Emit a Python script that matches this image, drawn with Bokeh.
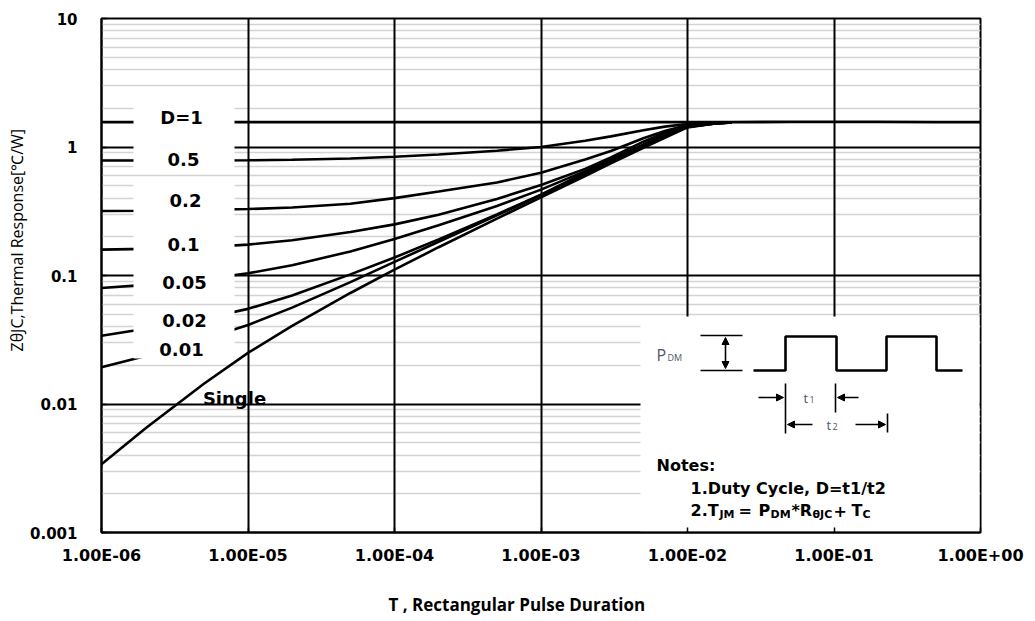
import numpy as np
from bokeh.plotting import figure
from bokeh.models import FixedTicker, Title, Arrow, NormalHead
from bokeh.core.properties import value
from bokeh.embed import file_html
from bokeh.resources import INLINE

# ---------------- data ----------------
pulse = [1e-6, 2e-6, 5e-6, 1e-5, 2e-5, 5e-5, 1e-4, 2e-4, 5e-4, 1e-3,
         2e-3, 3e-3, 5e-3, 7e-3, 1e-2, 1.5e-2, 2e-2]
pulse_d1 = [1e-6, 1e-5, 1e-4, 1e-3, 1e-2, 2e-2, 5e-2, 1e-1, 2e-1, 5e-1, 1.0]
z_d1 = [1.56, 1.56, 1.56, 1.56, 1.56, 1.56, 1.57, 1.57, 1.57, 1.56, 1.56]
z_d05 = [0.785, 0.785, 0.786, 0.788, 0.795, 0.813, 0.84, 0.875, 0.935, 1.0,
         1.12, 1.21, 1.35, 1.44, 1.51, 1.55, 1.56]
z_d02 = [0.318, 0.319, 0.323, 0.329, 0.338, 0.362, 0.40, 0.45, 0.53, 0.63,
         0.80, 0.93, 1.17, 1.33, 1.48, 1.54, 1.56]
z_d01 = [0.159, 0.161, 0.166, 0.174, 0.188, 0.218, 0.25, 0.297, 0.394, 0.506,
         0.676, 0.83, 1.10, 1.29, 1.47, 1.54, 1.56]
z_d005 = [0.080, 0.0846, 0.0935, 0.104, 0.120, 0.154, 0.192, 0.246, 0.348, 0.466,
          0.649, 0.80, 1.045, 1.25, 1.45, 1.53, 1.55]
z_d002 = [0.034, 0.0385, 0.0462, 0.055, 0.070, 0.102, 0.138, 0.191, 0.299, 0.426,
          0.63, 0.785, 1.03, 1.23, 1.44, 1.52, 1.55]
z_d001 = [0.0193, 0.0236, 0.0319, 0.0412, 0.0562, 0.0889, 0.1276, 0.183, 0.294, 0.423,
          0.615, 0.769, 1.02, 1.22, 1.43, 1.52, 1.55]
z_single = [0.0034, 0.00647, 0.01436, 0.0250, 0.0406, 0.0731, 0.111, 0.166, 0.277, 0.406,
            0.595, 0.745, 0.986, 1.18, 1.42, 1.52, 1.55]

curve_labels = ["D=1", "0.5", "0.2", "0.1", "0.05", "0.02", "0.01", "Single"]

x_ticks = [1e-6, 1e-5, 1e-4, 1e-3, 1e-2, 1e-1, 1.0]
x_tick_labels = ["1.00E-06", "1.00E-05", "1.00E-04", "1.00E-03", "1.00E-02", "1.00E-01", "1.00E+00"]
y_ticks = [0.001, 0.01, 0.1, 1.0, 10.0]
y_tick_labels = ["0.001", "0.01", "0.1", "1", "10"]
y_minor = [m * d for d in [0.001, 0.01, 0.1, 1.0] for m in range(2, 10)]

x_title = "T , Rectangular Pulse Duration"
y_title = "ZθJC,Thermal Response[℃/W]"

# ---------------- layout helpers (pixel -> data on the log axes) ----------------
FL, FR, FT, FB = 101, 980, 18, 532
def dx(px):
    return 10 ** (-6 + 6 * (px - FL) / (FR - FL))
def dy(py):
    return 10 ** (1 - 4 * (py - FT) / (FB - FT))

p = figure(frame_width=FR - FL, frame_height=FB - FT,
           x_axis_type="log", y_axis_type="log",
           x_range=(1e-6, 1.0), y_range=(1e-3, 10.0),
           min_border_left=FL, min_border_right=1035 - FR,
           min_border_top=FT, min_border_bottom=621 - FB,
           output_backend="svg", toolbar_location=None,
           background_fill_color="white", border_fill_color="white")
p.outline_line_color = "black"
p.outline_line_width = 2

p.xaxis.ticker = FixedTicker(ticks=x_ticks)
p.yaxis.ticker = FixedTicker(ticks=y_ticks, minor_ticks=y_minor)
p.xaxis.major_label_overrides = dict(zip(x_ticks, x_tick_labels))
p.yaxis.major_label_overrides = dict(zip(y_ticks, y_tick_labels))
for ax in (p.xaxis, p.yaxis):
    ax.axis_line_color = "black"
    ax.axis_line_width = 2
    ax.major_tick_in = 5
    ax.major_tick_out = 0
    ax.major_tick_line_width = 1.5
    ax.minor_tick_line_color = None
    ax.major_label_text_font = "DejaVu Sans"
    ax.major_label_text_font_style = "bold"
    ax.major_label_text_color = "black"
p.xaxis.major_label_text_font_size = "16px"
p.yaxis.major_label_text_font_size = "15px"
p.xaxis.major_label_standoff = 13
p.yaxis.major_label_standoff = 20

xg = p.xgrid[0]
yg = p.ygrid[0]
xg.grid_line_color = "black"
xg.grid_line_width = 2
yg.grid_line_color = "black"
yg.grid_line_width = 2
yg.minor_grid_line_color = "#d3d3d3"
yg.minor_grid_line_width = 1.5
# draw horizontal grid first so the black vertical lines stay on top
p.center = [yg, xg] + [r for r in p.center if r is not xg and r is not yg]

# ---------------- curves ----------------
p.line(pulse_d1, z_d1, line_color="black", line_width=2.8)
for zs in (z_d05, z_d02, z_d01, z_d005, z_d002, z_d001, z_single):
    p.line(pulse, zs, line_color="black", line_width=2.6)

# white label boxes on the left
box_px = [(133, 234, 100, 171), (133, 234, 178, 300), (133, 234, 307, 358)]
p.quad(left=[dx(b[0]) for b in box_px], right=[dx(b[1]) for b in box_px],
       top=[dy(b[2]) for b in box_px], bottom=[dy(b[3]) for b in box_px],
       fill_color="white", line_color=None)

lab_px = [(181, 117), (183, 159), (185, 200), (183, 244), (184, 282), (184, 320), (181, 349), (234, 398)]
p.text(x=[dx(a[0]) for a in lab_px], y=[dy(a[1]) for a in lab_px], text=curve_labels,
       text_font=value("DejaVu Sans"), text_font_style="bold", text_font_size="18px",
       text_align="center", text_baseline="middle", text_color="black")

# ---------------- inset (pulse diagram + notes) ----------------
p.quad(left=[dx(640)], right=[dx(979)], top=[dy(316)], bottom=[dy(531)],
       fill_color="white", line_color=None)

p.segment(x0=[dx(700), dx(700), dx(785), dx(835), dx(887)],
          y0=[dy(335), dy(370), dy(383), dy(383), dy(413)],
          x1=[dx(742), dx(742), dx(785), dx(835), dx(887)],
          y1=[dy(335), dy(370), dy(433), dy(412), dy(432)],
          line_color="black", line_width=1.6)
wave_x = [753, 785, 785, 836, 836, 886, 886, 936, 936, 962]
wave_y = [370, 370, 336, 336, 370, 370, 336, 336, 370, 370]
p.line([dx(v) for v in wave_x], [dy(v) for v in wave_y], line_color="black", line_width=2.6)

def head():
    return NormalHead(size=7, fill_color="black", line_color="black", line_width=1)

p.add_layout(Arrow(start=head(), end=head(), x_start=dx(725), y_start=dy(368),
                   x_end=dx(725), y_end=dy(337), line_width=1.6))
for (xs, xe, yy) in [(758, 783, 397), (858, 837, 397), (812, 787, 424), (855, 885, 424)]:
    p.add_layout(Arrow(end=head(), x_start=dx(xs), y_start=dy(yy), x_end=dx(xe), y_end=dy(yy),
                       line_width=1.6))

gray = "#4e5668"
small = dict(text_font=value("Open Sans"), text_baseline="middle", text_align="left", text_color=gray)
p.text(x=[dx(656)], y=[dy(354)], text=["P"], text_font_size="16px", **small)
p.text(x=[dx(667)], y=[dy(357)], text=["DM"], text_font_size="9px", **small)
p.text(x=[dx(803), dx(826)], y=[dy(397), dy(424)], text=["t", "t"], text_font_size="13px", **small)
p.text(x=[dx(809), dx(832)], y=[dy(399), dy(426)], text=["1", "2"], text_font_size="9px", **small)

notes = dict(text_font=value("DejaVu Sans"), text_font_style="bold", text_baseline="middle",
             text_align="left", text_color="black")
p.text(x=[dx(656)], y=[dy(465)], text=["Notes:"], text_font_size="16px", **notes)
p.text(x=[dx(690)], y=[dy(488)], text=["1.Duty  Cycle, D=t1/t2"], text_font_size="16px", **notes)

# line 2 : pieces (text, size, advance in px, vertical offset)
pieces = [("2.T", 16, 29, 0), ("JM", 11, 19, 4), ("=", 16, 20, 0), ("P", 16, 12, 0),
          ("DM", 11, 21, 4), ("*R", 16, 21, 0), ("θJC", 11, 21, 4), ("+", 16, 18, 0),
          ("T", 16, 11, 0), ("C", 11, 9, 4)]
cx = 690.0
for txt, sz, adv, off in pieces:
    p.text(x=[dx(cx)], y=[dy(510 + off)], text=[txt], text_font_size=f"{sz}px", **notes)
    cx += adv

# ---------------- axis titles (side panels) ----------------
tx = Title(text=x_title, align="left", offset=388 - FL,
           text_font="Open Sans", text_font_style="bold", text_font_size="17px", text_color="black")
ty = Title(text=y_title, align="left", offset=FB - 351,
           text_font="Open Sans", text_font_style="normal", text_font_size="16px", text_color="black")
if "standoff" in Title.properties():
    tx.standoff = 46
    ty.standoff = 0
p.add_layout(tx, "below")
p.add_layout(ty, "left")

open("out.html", "w").write(file_html(p, INLINE))
